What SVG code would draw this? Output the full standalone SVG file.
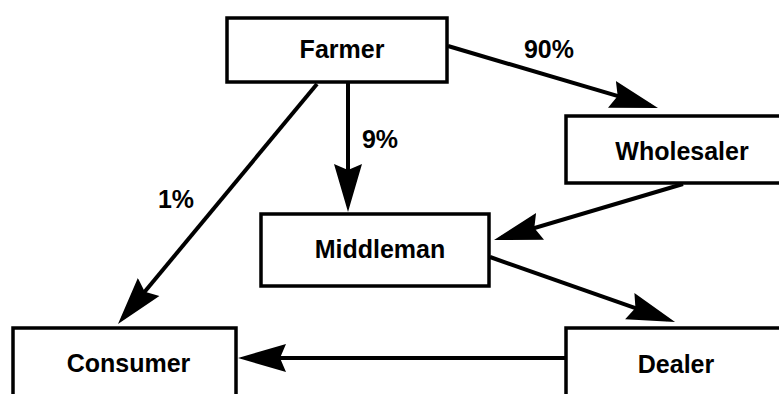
<svg xmlns="http://www.w3.org/2000/svg" width="779" height="394" viewBox="0 0 779 394">
<style>
.box{fill:#fff;stroke:#000;stroke-width:3.5}
.lbl{font-family:"Liberation Sans",Arial,sans-serif;font-weight:bold;font-size:25px;fill:#000;text-anchor:middle}
.edge{stroke:#000;stroke-width:4;fill:none;marker-end:url(#ah)}
</style>
<defs>
<marker id="ah" markerUnits="userSpaceOnUse" markerWidth="48" markerHeight="30" viewBox="0 0 48 30" refX="40" refY="15" orient="auto">
<path d="M48,15 L0,1 L6,15 L0,29 Z" fill="#000"/>
</marker>
</defs>
<rect width="779" height="394" fill="#fff"/>
<g id="connectors">
<line class="edge" x1="448" y1="46" x2="650.3" y2="105.7"/>
<line class="edge" x1="348" y1="83" x2="348" y2="204"/>
<line class="edge" x1="317" y1="84" x2="123.1" y2="317.8"/>
<line class="edge" x1="683" y1="184" x2="501.7" y2="237.7"/>
<line class="edge" x1="490" y1="257" x2="667.5" y2="319.4"/>
<line class="edge" x1="565" y1="358" x2="246" y2="358"/>
<text class="lbl" x="549" y="58">90%</text>
<text class="lbl" x="380" y="148">9%</text>
<text class="lbl" x="176" y="208">1%</text>
</g>
<g id="farmer">
<rect class="box" x="227" y="18" width="220" height="64"/>
<text class="lbl" x="342" y="58">Farmer</text>
</g>
<g id="wholesaler">
<rect class="box" x="566" y="116" width="240" height="67"/>
<text class="lbl" x="682" y="160">Wholesaler</text>
</g>
<g id="middleman">
<rect class="box" x="261" y="214" width="228" height="72"/>
<text class="lbl" x="380" y="258">Middleman</text>
</g>
<g id="consumer">
<rect class="box" x="13" y="328" width="223" height="100"/>
<text class="lbl" x="128.5" y="372">Consumer</text>
</g>
<g id="dealer">
<rect class="box" x="566" y="328" width="240" height="100"/>
<text class="lbl" x="676" y="373">Dealer</text>
</g>
</svg>
